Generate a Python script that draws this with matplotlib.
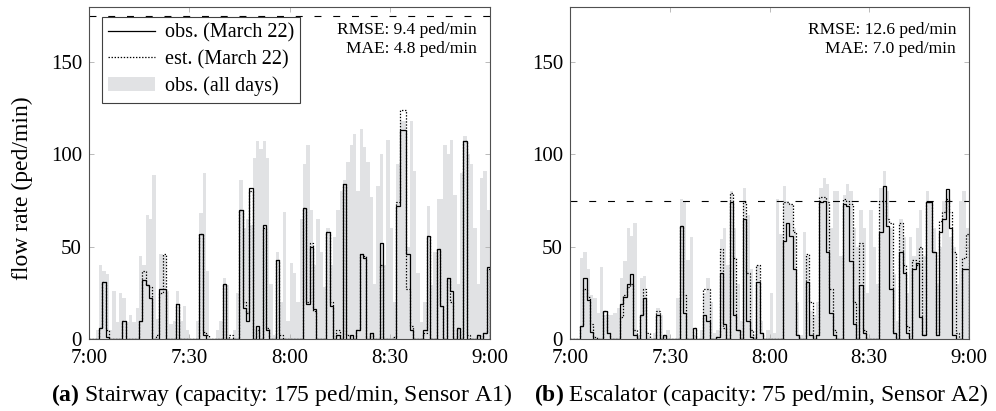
import numpy as np
import matplotlib
matplotlib.use("Agg")
import matplotlib.pyplot as plt
from matplotlib.lines import Line2D
from matplotlib.patches import Patch

plt.rcParams['font.family'] = ['Liberation Serif', 'DejaVu Serif']
plt.rcParams['mathtext.fontset'] = 'custom'
plt.rcParams['mathtext.rm'] = 'Liberation Serif'
plt.rcParams['mathtext.bf'] = 'Liberation Serif:bold'
plt.rcParams['lines.scale_dashes'] = False

# ---------------- data (ped/min per minute, 7:00-9:00) ----------------
minutes = np.arange(121)
tick_pos = [0, 30, 60, 90, 120]
tick_labels = ["7:00", "7:30", "8:00", "8:30", "9:00"]

stair_all = [0, 0, 5, 40, 37, 35, 5, 26, 9, 25, 22, 9, 13, 9, 17, 45, 40, 67, 65, 89,
             11, 46, 45, 26, 8, 10, 26, 10, 18, 5, 0, 0, 10, 68, 90, 37, 0, 0, 5, 10,
             33, 29, 0, 5, 25, 86, 60, 65, 62, 98, 107, 103, 107, 98, 30, 2, 47, 20, 69, 10,
             41, 36, 20, 65, 95, 105, 70, 40, 65, 47, 28, 60, 40, 55, 70, 80, 86, 96, 105, 111,
             80, 114, 104, 96, 77, 30, 83, 100, 40, 108, 60, 20, 95, 118, 118, 50, 118, 91, 36, 9,
             20, 72, 29, 47, 76, 76, 105, 100, 108, 78, 30, 90, 110, 100, 95, 60, 30, 87, 91, 70]
stair_obs = [0, 0, 0, 6, 31, 1, 0, 0, 0, 0, 10, 0, 0, 0, 0, 10, 32, 29, 22, 0,
             0, 27, 27, 0, 0, 0, 19, 0, 0, 0, 0, 0, 0, 57, 2, 0, 0, 0, 0, 0,
             30, 0, 0, 0, 0, 70, 17, 10, 82, 0, 7, 0, 62, 5, 0, 0, 43, 0, 0, 0,
             0, 0, 0, 0, 71, 19, 50, 16, 0, 0, 0, 58, 18, 0, 2, 0, 84, 0, 2, 0,
             5, 46, 44, 0, 3, 0, 0, 52, 0, 0, 0, 0, 72, 113, 113, 46, 5, 0, 0, 0,
             5, 56, 0, 0, 49, 18, 0, 33, 26, 0, 6, 0, 107, 0, 0, 0, 2, 0, 3, 39]
stair_est = [0, 0, 0, 6, 31, 5, 0, 0, 0, 0, 10, 0, 0, 0, 0, 10, 37, 29, 28, 0,
             2, 25, 46, 0, 0, 0, 19, 0, 0, 0, 0, 0, 0, 57, 4, 2, 0, 0, 0, 0,
             30, 0, 2, 0, 0, 70, 20, 14, 80, 0, 5, 0, 60, 6, 0, 0, 43, 2, 0, 0,
             0, 0, 0, 0, 71, 20, 52, 15, 0, 0, 0, 58, 20, 0, 5, 0, 84, 2, 0, 0,
             5, 46, 45, 0, 3, 0, 0, 40, 0, 0, 0, 1, 74, 124, 124, 27, 7, 0, 0, 0,
             3, 56, 0, 0, 49, 18, 0, 33, 20, 0, 6, 0, 107, 2, 0, 0, 2, 0, 3, 38]

esc_all = [0, 0, 0, 44, 47, 38, 24, 22, 14, 39, 13, 13, 13, 14, 17, 33, 42, 60, 56, 63,
           2, 33, 34, 2, 0, 3, 17, 13, 2, 5, 0, 0, 22, 76, 74, 43, 55, 2, 0, 5,
           25, 33, 20, 3, 5, 54, 60, 40, 80, 60, 30, 10, 82, 67, 38, 2, 40, 10, 0, 5,
           25, 3, 76, 57, 83, 75, 73, 60, 20, 2, 58, 45, 15, 13, 20, 82, 87, 84, 60, 80,
           80, 45, 78, 84, 80, 60, 50, 70, 60, 25, 70, 50, 30, 82, 91, 80, 60, 35, 10, 65,
           55, 25, 55, 45, 60, 70, 45, 80, 75, 60, 30, 50, 75, 80, 55, 50, 30, 75, 80, 60]
esc_obs = [0, 0, 0, 7, 33, 21, 4, 0, 0, 0, 15, 3, 0, 0, 0, 19, 23, 30, 35, 2,
           0, 13, 22, 0, 0, 0, 13, 0, 2, 0, 0, 0, 0, 61, 14, 0, 0, 6, 0, 0,
           13, 10, 0, 0, 1, 36, 8, 0, 74, 13, 5, 0, 65, 10, 1, 0, 31, 3, 0, 0,
           0, 0, 0, 0, 53, 63, 56, 38, 2, 0, 0, 31, 2, 0, 2, 74, 75, 47, 14, 2,
           0, 0, 73, 72, 42, 8, 0, 29, 3, 0, 0, 0, 0, 58, 83, 61, 27, 3, 0, 47,
           36, 3, 0, 38, 41, 12, 2, 74, 74, 47, 2, 58, 65, 81, 60, 2, 0, 0, 38, 38]
esc_est = [0, 0, 0, 7, 27, 23, 8, 1, 0, 0, 15, 3, 0, 0, 0, 12, 24, 28, 30, 5,
           0, 13, 27, 3, 0, 0, 15, 0, 2, 0, 0, 0, 0, 61, 24, 0, 0, 6, 0, 0,
           27, 27, 0, 0, 1, 49, 6, 0, 79, 44, 5, 0, 74, 36, 5, 0, 40, 3, 0, 0,
           0, 0, 0, 0, 74, 74, 73, 58, 2, 0, 0, 46, 20, 0, 2, 77, 77, 74, 27, 5,
           0, 0, 76, 75, 73, 20, 0, 52, 5, 0, 0, 0, 0, 75, 75, 65, 63, 3, 0, 63,
           40, 7, 0, 43, 40, 50, 2, 74, 74, 47, 2, 64, 69, 76, 69, 47, 3, 0, 44, 57]

panels = [
    dict(all=stair_all, obs=stair_obs, est=stair_est, cap=175,
         rmse="RMSE: 9.4 ped/min", mae="MAE: 4.8 ped/min",
         caption=r"$\mathbf{(a)}$ Stairway (capacity: 175 ped/min, Sensor A1)"),
    dict(all=esc_all, obs=esc_obs, est=esc_est, cap=75,
         rmse="RMSE: 12.6 ped/min", mae="MAE: 7.0 ped/min",
         caption=r"$\mathbf{(b)}$ Escalator (capacity: 75 ped/min, Sensor A2)"),
]

W, H = 996, 411
fig = plt.figure(figsize=(W / 100, H / 100), dpi=100)
lefts = [89, 570]
widths = [401, 399]
bottom_px, top_px = 339, 6.7

for k, p in enumerate(panels):
    ax = fig.add_axes([lefts[k] / W, 1 - bottom_px / H, widths[k] / W, (bottom_px - top_px) / H])
    ax.stairs(p['all'], minutes, fill=True, color='#e1e2e4', lw=0)
    ax.stairs(p['est'], minutes, color='black', lw=0.9, linestyle=(0, (1.0, 1.2)))
    ax.stairs(p['obs'], minutes, color='black', lw=0.9)
    ax.axhline(p['cap'], color='black', lw=0.8, linestyle=(0, (5.0, 8.5)))
    ax.set_xlim(0, 120)
    ax.set_ylim(0, 180)
    ax.set_xticks(tick_pos)
    ax.set_xticklabels(tick_labels)
    ax.set_yticks([0, 50, 100, 150])
    ax.tick_params(direction='in', top=True, right=True, length=3.5, width=0.6,
                   color='#b0b0b0', labelsize=15)
    ax.tick_params(axis='x', pad=7)
    ax.tick_params(axis='y', pad=5)
    for s in ax.spines.values():
        s.set_color('#505050')
        s.set_linewidth(0.8)
    ax.text(0.968, 0.955, p['rmse'] + "\n" + p['mae'], transform=ax.transAxes,
            ha='right', va='top', fontsize=12.5, linespacing=1.25)
    fig.text((lefts[k] + widths[k] / 2 - 8) / W, 1 - 395 / H, p['caption'],
             ha='center', va='center', fontsize=17)
    if k == 0:
        handles = [Line2D([], [], color='black', lw=0.9),
                   Line2D([], [], color='black', lw=0.9, linestyle=(0, (1.0, 1.2))),
                   Patch(facecolor='#e1e2e4', edgecolor='none')]
        leg = ax.legend(handles, ["obs. (March 22)", "est. (March 22)", "obs. (all days)"],
                        loc='upper left', bbox_to_anchor=(0.032, 0.969), borderaxespad=0,
                        fancybox=False, framealpha=1, edgecolor='#404040', fontsize=14.5,
                        handlelength=2.3, handletextpad=0.5, labelspacing=0.36,
                        borderpad=0.32)
        leg.get_frame().set_linewidth(0.8)

fig.text(22 / W, 1 - 188 / H, "flow rate (ped/min)", rotation=90, ha='center', va='center',
         fontsize=17)

fig.savefig("out.png", dpi=100)
